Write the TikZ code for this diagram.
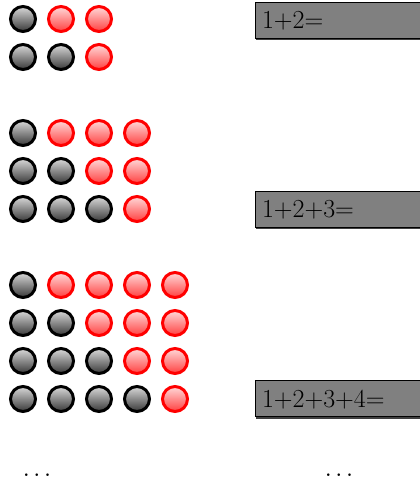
\documentclass[tikz,border=0pt]{standalone}
\usetikzlibrary{shadows}
\begin{document}
\begin{tikzpicture}[x=0.75pt,y=-0.75pt,
  ball/.style={circle,inner sep=0pt,minimum size=18.75pt,line width=2.25pt},
  blackball/.style={ball,draw=black,top color=black!15,bottom color=black!78},
  redball/.style={ball,draw=red,top color=red!15,bottom color=red!75},
  sumbox/.style={draw=black,line width=0.5pt,fill=black!50,anchor=west,
    minimum height=27pt,minimum width=150pt,inner sep=5pt,text depth=0pt,
    align=left,text width=140pt,
    font=\fontsize{19.5}{23}\selectfont,
    drop shadow={shadow xshift=0.6pt,shadow yshift=-1.6pt,fill=black!75,opacity=1}},
  dotsnode/.style={anchor=base,inner sep=1pt,font=\fontsize{24}{28}\selectfont}]
\useasboundingbox (0,0) rectangle (420,479);
\begin{scope}
\clip (0,0) rectangle (420,479);
% group 1 (n=2)
\foreach \r in {1,2}{
  \foreach \c in {1,2,3}{
    \pgfmathtruncatemacro{\isblack}{\c<=\r ? 1 : 0}
    \ifnum\isblack=1
      \node[blackball] (a\r\c) at ({23+38*(\c-1)},{19+38*(\r-1)}) {};
    \else
      \node[redball] (a\r\c) at ({23+38*(\c-1)},{19+38*(\r-1)}) {};
    \fi
  }
}
% group 2 (n=3)
\foreach \r in {1,2,3}{
  \foreach \c in {1,2,3,4}{
    \pgfmathtruncatemacro{\isblack}{\c<=\r ? 1 : 0}
    \ifnum\isblack=1
      \node[blackball] (b\r\c) at ({23+38*(\c-1)},{133+38*(\r-1)}) {};
    \else
      \node[redball] (b\r\c) at ({23+38*(\c-1)},{133+38*(\r-1)}) {};
    \fi
  }
}
% group 3 (n=4)
\foreach \r in {1,2,3,4}{
  \foreach \c in {1,2,3,4,5}{
    \pgfmathtruncatemacro{\isblack}{\c<=\r ? 1 : 0}
    \ifnum\isblack=1
      \node[blackball] (c\r\c) at ({23+38*(\c-1)},{285+38*(\r-1)}) {};
    \else
      \node[redball] (c\r\c) at ({23+38*(\c-1)},{285+38*(\r-1)}) {};
    \fi
  }
}
\node[sumbox] (s1) at (255,20) {1+2=};
\node[sumbox] (s2) at (255,209) {1+2+3=};
\node[sumbox] (s3) at (255,398.5) {1+2+3+4=};
\end{scope}
\node[dotsnode] (d1) at (37,476.5) {.\kern1.9pt.\kern1.9pt.};
\node[dotsnode] (d2) at (339,476.5) {.\kern1.9pt.\kern1.9pt.};
\end{tikzpicture}
\end{document}
